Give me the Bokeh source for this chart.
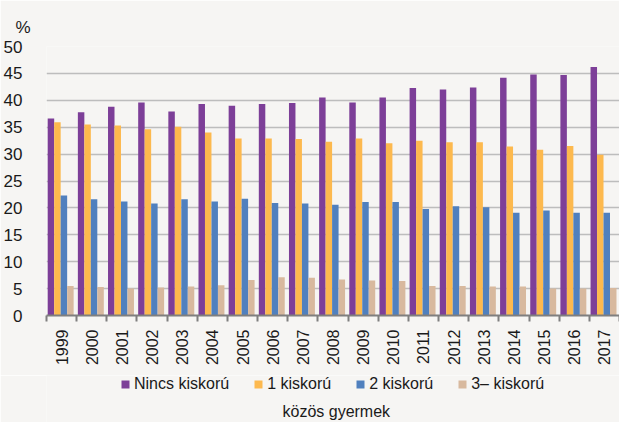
from bokeh.plotting import figure
from bokeh.layouts import column
from bokeh.models import ColumnDataSource, FixedTicker, Legend, LegendItem, Title, Range1d, Label
from bokeh.transform import dodge
from bokeh.embed import file_html
from bokeh.resources import INLINE

years = [str(y) for y in range(1999, 2018)]
nincs = [36.6, 37.8, 38.8, 39.6, 37.9, 39.3, 39.0, 39.3, 39.5, 40.5, 39.6, 40.5, 42.3, 42.0, 42.4, 44.2, 44.8, 44.7, 46.2]
egy = [35.9, 35.5, 35.3, 34.6, 35.1, 34.0, 32.9, 32.9, 32.8, 32.3, 32.9, 32.0, 32.5, 32.2, 32.2, 31.4, 30.8, 31.5, 29.9]
ketto = [22.3, 21.6, 21.2, 20.8, 21.6, 21.2, 21.7, 20.9, 20.8, 20.6, 21.1, 21.1, 19.8, 20.3, 20.1, 19.1, 19.5, 19.1, 19.1]
harom = [5.5, 5.3, 5.0, 5.2, 5.4, 5.6, 6.6, 7.1, 7.0, 6.7, 6.5, 6.4, 5.5, 5.5, 5.4, 5.4, 5.0, 5.0, 5.1]
series_names = ["Nincs kiskorú", "1 kiskorú", "2 kiskorú", "3– kiskorú"]
colors = ["#7D3F98", "#FDB94E", "#5080BE", "#D8B99E"]
y_ticks = list(range(0, 55, 5))
subtitle = "közös gyermek"

FONT = "Liberation Sans"
TXT = "#1a1a1a"
BG = "#F6F5F3"

idx = list(range(len(years)))
src = ColumnDataSource(dict(idx=idx, s0=nincs, s1=egy, s2=ketto, s3=harom))

p = figure(width=619, height=375, output_backend="svg", toolbar_location=None,
           x_range=Range1d(-0.5, len(years) - 0.5), y_range=Range1d(0, 50),
           min_border_left=41, min_border_top=46, min_border_right=0, min_border_bottom=60,
           background_fill_color=BG, border_fill_color=BG, outline_line_color=None)

bw = 0.215
offsets = [-1.5 * bw, -0.5 * bw, 0.5 * bw, 1.5 * bw]
for i, col in enumerate(colors):
    p.vbar(x=dodge("idx", offsets[i] - 0.03), top=f"s{i}", width=bw, source=src,
           fill_color=col, line_color=None)

# y axis
p.yaxis.ticker = FixedTicker(ticks=y_ticks)
p.yaxis.axis_line_color = None
p.yaxis.major_tick_line_color = None
p.yaxis.minor_tick_line_color = None
p.yaxis.major_label_standoff = 18
p.yaxis.major_label_text_font = FONT
p.yaxis.major_label_text_font_size = "17px"
p.yaxis.major_label_text_color = TXT

# x axis
p.xaxis.ticker = FixedTicker(ticks=idx, minor_ticks=[i - 0.5 for i in range(len(years) + 1)])
p.xaxis.major_label_overrides = {i: y for i, y in enumerate(years)}
p.xaxis.major_label_orientation = 3.14159265 / 2
p.xaxis.major_tick_line_color = None
p.xaxis.minor_tick_line_color = "#7f7f7f"
p.xaxis.minor_tick_line_width = 2
p.xaxis.minor_tick_out = 6
p.xaxis.minor_tick_in = 0
p.xaxis.axis_line_color = "#7f7f7f"
p.xaxis.axis_line_width = 2
p.xaxis.major_label_standoff = 8
p.xaxis.major_label_text_font = FONT
p.xaxis.major_label_text_font_size = "16px"
p.xaxis.major_label_text_color = TXT

p.xgrid.grid_line_color = None
p.ygrid.ticker = FixedTicker(ticks=y_ticks)
p.ygrid.grid_line_color = "#BDBDBD"
p.ygrid.grid_line_width = 1.5

p.add_layout(Title(text="%", align="left", offset=-31, text_font=FONT, standoff=20,
                   text_font_size="17px", text_color=TXT, text_font_style="normal"), "above")

# legend strip below the chart
q = figure(width=619, height=47, output_backend="svg", toolbar_location=None,
           x_range=Range1d(-0.5, len(years) - 0.5), y_range=Range1d(1000, 1001),
           x_axis_location=None, y_axis_location=None,
           min_border=0, background_fill_color=BG, border_fill_color=BG, outline_line_color=None)
q.grid.visible = False
leg_renderers = []
for i, col in enumerate(colors):
    r = q.vbar(x="idx", top=f"s{i}", width=bw, source=src, fill_color=col, line_color=None)
    r.visible = False
    leg_renderers.append(r)
legend = Legend(items=[LegendItem(label=n, renderers=[r]) for n, r in zip(series_names, leg_renderers)],
                orientation="horizontal", location=(74, 29),
                glyph_width=10, glyph_height=10, label_standoff=4, spacing=24,
                label_text_font=FONT, label_text_font_size="16px", label_text_color=TXT,
                background_fill_alpha=0, border_line_color=None, padding=0, margin=2,
                label_height=16, inactive_fill_alpha=0)
q.add_layout(legend, "center")
q.add_layout(Label(x=236, y=3, x_units="screen", y_units="screen", text=subtitle,
                   text_font=FONT, text_font_size="16px", text_color=TXT, text_baseline="bottom"))

open("out.html", "w").write(file_html(column(p, q, spacing=0), INLINE))
